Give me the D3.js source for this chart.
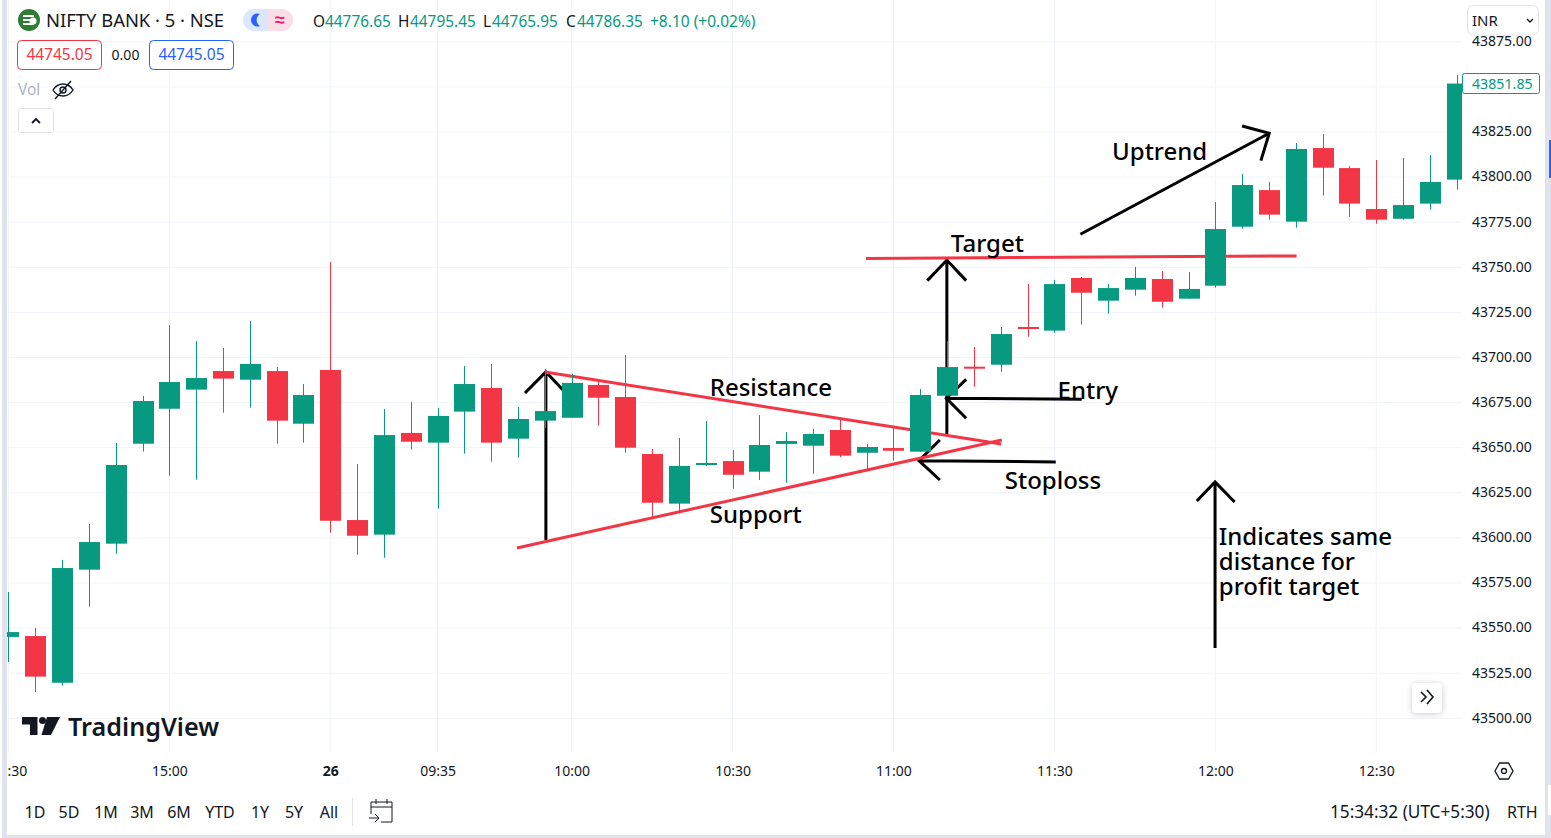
<!DOCTYPE html>
<html>
<head>
<meta charset="utf-8">
<script src="https://cdnjs.cloudflare.com/ajax/libs/d3/7.8.5/d3.min.js"></script>
<style>
  html, body { margin: 0; padding: 0; background: #fff; overflow: hidden; }
  text { font-family: "Noto Sans", sans-serif; }
</style>
</head>
<body>
<div id="chart"></div>
<script>
const opens = [43545.1,43545.6,43519.7,43582.4,43596.8,43652.2,43671.6,43682.2,43692.5,43687.7,43692.5,43663.3,43693.1,43609.9,43601.8,43658.2,43652.8,43670.0,43683.1,43655.0,43665.0,43666.6,43684.8,43678.1,43646.5,43619.0,43640.4,43642.6,43636.7,43652.1,43651.1,43659.8,43647.2,43649.8,43647.8,43678.8,43694.9,43696.0,43716.9,43714.9,43744.1,43731.5,43737.6,43743.5,43732.6,43739.8,43772.5,43792.8,43775.3,43816.1,43805.0,43782.3,43776.9,43785.3,43798.6]
const highs = [43570.0,43550.1,43587.8,43607.7,43652.6,43678.7,43718.0,43709.1,43705.3,43720.2,43694.7,43685.3,43752.9,43641.0,43671.5,43675.3,43672.0,43695.3,43696.4,43672.6,43693.6,43690.9,43686.6,43701.4,43649.3,43655.4,43664.8,43648.7,43668.1,43658.7,43660.4,43665.4,43652.1,43660.9,43682.5,43709.1,43705.8,43716.9,43740.7,43743.0,43744.6,43740.7,43750.2,43747.9,43747.4,43786.2,43801.7,43797.3,43818.9,43823.9,43806.2,43809.5,43810.6,43812.2,43856.6]
const lows = [43531.2,43514.6,43518.1,43561.9,43591.2,43647.8,43634.5,43632.3,43669.4,43672.2,43652.2,43652.8,43602.9,43590.7,43589.0,43648.9,43616.2,43646.7,43642.2,43644.5,43660.9,43666.6,43662.2,43647.2,43611.8,43613.6,43639.9,43627.3,43632.1,43630.6,43635.6,43644.8,43638.0,43642.8,43647.6,43678.8,43683.8,43692.1,43711.5,43713.7,43718.2,43724.3,43734.3,43727.6,43732.6,43738.7,43771.4,43776.4,43772.0,43789.7,43778.0,43774.2,43776.4,43781.9,43793.0]
const closes = [43547.8,43523.1,43583.3,43597.7,43640.4,43675.9,43686.4,43688.6,43688.3,43696.4,43665.0,43679.2,43609.5,43601.2,43657.0,43653.3,43667.6,43685.3,43652.8,43665.9,43670.3,43685.9,43677.7,43650.0,43619.5,43639.9,43641.5,43635.0,43651.5,43653.7,43657.6,43645.6,43650.4,43648.3,43679.2,43694.7,43693.8,43713.0,43716.0,43740.7,43735.9,43738.5,43744.1,43730.9,43738.0,43771.2,43795.6,43779.2,43815.6,43805.2,43785.3,43776.4,43784.5,43797.3,43851.85]

const priceTicks = [43500,43525,43550,43575,43600,43625,43650,43675,43700,43725,43750,43775,43800,43825,43875]
const gridPrices = [43500,43525,43550,43575,43600,43625,43650,43675,43700,43725,43750,43775,43800,43825,43850,43875]
const timeBars = [0,6,12,16,21,27,33,39,45,51]
const timeLabels = [":30","15:00","26","09:35","10:00","10:30","11:00","11:30","12:00","12:30"]
const rangeButtons = ["1D","5D","1M","3M","6M","YTD","1Y","5Y","All"]
const rangeButtonX = [35,69,106,142,179,220,260,294,329]

// drawn on the chart, [bar, price]
const trendLines = [
  [[31.97,43754.9],[48.03,43756.3]],
  [[20.0,43692],[37.02,43652.05]],
  [[18.96,43594.4],[37.04,43654.3]]
]
// tail, tip, barb, barb
const arrows = [
  [[20.04,43598.8],[20.04,43692],[19.26,43680.3],[20.82,43679.8]],
  [[34.99,43657],[34.99,43754],[34.26,43742.6],[35.71,43742.6]],
  [[40.02,43676.8],[34.97,43677.4],[35.71,43666.3],[35.71,43687.9]],
  [[39.05,43642.1],[33.95,43642.8],[34.73,43654.3],[34.73,43632.1]],
  [[44.99,43539],[44.99,43631],[44.31,43620.5],[45.72,43619.9]],
  [[39.97,43768.3],[47.01,43824.3],[46.0,43828.3],[46.7,43809.1]]
]
const noteTexts = ["Resistance","Support","Target","Entry","Stoploss","Uptrend","Indicates same","distance for","profit target"]
const noteBars = [26.15,26.15,35.14,39.12,37.15,41.15,45.13,45.13,45.13]
const notePrices = [43678.7,43608.3,43758.5,43677,43627.1,43809.5,43596.1,43582.2,43568.4]

const GREEN = "#089981", RED = "#f23645", INK = "#131722", GRID = "#f0f3fa", EDGE = "#e0e3eb"
const UI = "Roboto, sans-serif"

const width = 1551, height = 838
const svg = d3.select("#chart").append("svg")
    .attr("width", width).attr("height", height)
    .style("display", "block")

const x = d3.scaleLinear().domain([0, 54]).range([8.42, 1456.7])
const y = d3.scaleLinear().domain([43500, 43875]).range([718.3, 41.8])
const px = d => x(d[0]), py = d => y(d[1])
const line = d3.line().x(px).y(py)

svg.append("rect").attr("width", width).attr("height", height).attr("fill", "#fff")

// grid
svg.append("g").selectAll("line").data(gridPrices).join("line")
    .attr("x1", 8).attr("x2", 1462)
    .attr("y1", d => y(d)).attr("y2", d => y(d))
    .attr("stroke", GRID)
svg.append("g").selectAll("line").data(timeBars).join("line")
    .attr("x1", d => x(d)).attr("x2", d => x(d))
    .attr("y1", 0).attr("y2", 752)
    .attr("stroke", GRID)

// annotations sit under the candles
const notes = svg.append("g")
notes.selectAll(".arrow").data(arrows).join("path")
    .attr("class", "arrow")
    .attr("fill", "none").attr("stroke", "#000").attr("stroke-width", 3)
    .attr("d", d => line([d[0], d[1]]) + line([d[2], d[1], d[3]]))
notes.selectAll(".trend").data(trendLines).join("path")
    .attr("class", "trend")
    .attr("fill", "none").attr("stroke", RED).attr("stroke-width", 3)
    .attr("d", line)

// candles
const bars = d3.range(opens.length)
svg.append("clipPath").attr("id", "pane").append("rect")
    .attr("x", 7).attr("y", 0).attr("width", 1455).attr("height", 752)
const candles = svg.append("g").attr("clip-path", "url(#pane)")
const barColor = i => closes[i] >= opens[i] ? GREEN : RED
candles.selectAll(".wick").data(bars).join("line")
    .attr("class", "wick")
    .attr("x1", i => Math.round(x(i)) + 0.5).attr("x2", i => Math.round(x(i)) + 0.5)
    .attr("y1", i => y(highs[i])).attr("y2", i => y(lows[i]))
    .attr("stroke", barColor)
candles.selectAll(".body").data(bars).join("rect")
    .attr("class", "body")
    .attr("x", i => Math.round(x(i)) - 10).attr("width", 21)
    .attr("y", i => y(Math.max(opens[i], closes[i])))
    .attr("height", i => Math.max(2, Math.abs(y(opens[i]) - y(closes[i]))))
    .attr("fill", barColor)

svg.append("g").selectAll("text").data(noteTexts).join("text")
    .attr("x", (d, i) => x(noteBars[i]))
    .attr("y", (d, i) => y(notePrices[i]))
    .attr("font-size", 24)
    .attr("font-weight", 500)
    .attr("fill", "#000")
    .text(d => d)

// price axis
const yAxis = svg.append("g").attr("transform", "translate(1462,-0.6)")
    .call(d3.axisRight(y).tickValues(priceTicks).tickSize(0).tickPadding(10).tickFormat(d3.format(".2f")))
yAxis.select(".domain").remove()
yAxis.selectAll("text").attr("font-family", UI).attr("font-size", 14).attr("fill", INK)

// time axis
const xAxis = svg.append("g").attr("transform", "translate(0,771)")
    .call(d3.axisBottom(x).tickValues(timeBars).tickSize(0).tickPadding(0)
      .tickFormat((d, i) => timeLabels[i]))
xAxis.select(".domain").remove()
xAxis.selectAll("text").attr("font-family", UI).attr("font-size", 14).attr("fill", INK)
    .attr("dy", "0.35em").attr("y", 0)
    .attr("font-weight", (d, i) => timeLabels[i] == "26" ? 700 : 400)
// first label is cut off by the pane edge
xAxis.selectAll("text").filter((d, i) => i == 0).attr("text-anchor", "start").attr("x", -1.4)

// frame
svg.append("rect").attr("x", 2).attr("y", 0).attr("width", 5).attr("height", 838).attr("fill", EDGE)
svg.append("rect").attr("x", 1545).attr("y", 0).attr("width", 6).attr("height", 838).attr("fill", EDGE)
svg.append("rect").attr("x", 2).attr("y", 835).attr("width", 1549).attr("height", 3).attr("fill", EDGE)
svg.append("rect").attr("x", 1549).attr("y", 140).attr("width", 2).attr("height", 38).attr("fill", "#2962ff")
svg.append("rect").attr("x", 1548).attr("y", 785).attr("width", 3).attr("height", 30).attr("fill", "#fff")

function label(txt, tx, ty, size, fill, anchor) {
  return svg.append("text").attr("x", tx).attr("y", ty)
      .attr("dy", "0.35em")
      .attr("font-family", UI).attr("font-size", size)
      .attr("fill", fill).attr("text-anchor", anchor || "start")
      .text(txt)
}
function box(bx, by, bw, bh, stroke, r) {
  return svg.append("rect").attr("x", bx).attr("y", by).attr("width", bw).attr("height", bh)
      .attr("rx", r).attr("fill", "#fff").attr("stroke", stroke)
}

// header
svg.append("circle").attr("cx", 29).attr("cy", 20).attr("r", 11).attr("fill", "#2e7d32")
svg.append("path").attr("d", "M23 16h11M23 20h8M23 24h11").attr("stroke", "#fff").attr("stroke-width", 2)
svg.append("circle").attr("cx", 33).attr("cy", 21).attr("r", 3.5).attr("fill", "#fff")
label("NIFTY BANK · 5 · NSE", 46, 21, 18.4, INK)

svg.append("path").attr("d", "M254 9h14v22h-14a11 11 0 0 1 0-22z").attr("fill", "#dbe7ff")
svg.append("path").attr("d", "M268 9h14a11 11 0 0 1 0 22h-14z").attr("fill", "#fbdde7")
svg.append("path").attr("d", "M260 14a6.5 6.5 0 1 0 0 12a7 7 0 0 1 0-12z").attr("fill", "#2962ff")
label("≈", 280, 20, 18, "#e91e63", "middle").attr("font-weight", 700)

label("O", 313, 22, 15.4, INK)
label("44776.65", 325, 22, 15.4, GREEN)
label("H", 398, 22, 15.4, INK)
label("44795.45", 410, 22, 15.4, GREEN)
label("L", 483, 22, 15.4, INK)
label("44765.95", 492, 22, 15.4, GREEN)
label("C", 566, 22, 15.4, INK)
label("44786.35", 577, 22, 15.4, GREEN)
label("+8.10 (+0.02%)", 650, 22, 15.5, GREEN)

box(17.5, 40.5, 84, 29, RED, 4)
label("44745.05", 59.5, 55, 15.5, RED, "middle")
label("0.00", 125.5, 55, 14, INK, "middle")
box(149.5, 40.5, 84, 29, "#2962ff", 4)
label("44745.05", 191.5, 55, 15.5, "#2962ff", "middle")

label("Vol", 18, 90, 15.5, "#b2b5be")
svg.append("path").attr("d", "M53 90c5-8 15-8 20 0c-5 8-15 8-20 0zM55 99l16-18")
    .attr("fill", "none").attr("stroke", INK).attr("stroke-width", 1.4)
svg.append("circle").attr("cx", 63).attr("cy", 90).attr("r", 3)
    .attr("fill", "none").attr("stroke", INK).attr("stroke-width", 1.4)

box(18.5, 108.5, 35, 24, EDGE, 3)
svg.append("path").attr("d", "M32 123l4-4l4 4").attr("fill", "none").attr("stroke", INK).attr("stroke-width", 1.8)

// currency box and last price
box(1467.5, 5.5, 71, 29.5, EDGE, 6)
label("INR", 1472, 21, 15, INK)
svg.append("path").attr("d", "M1527 19l3 3l3-3").attr("fill", "none").attr("stroke", INK).attr("stroke-width", 1.4)
box(1462.5, 73.5, 77, 20, GREEN, 2)
label(closes[closes.length - 1].toFixed(2), 1472, 84, 14.2, GREEN)

// watermark
svg.append("path").attr("d", "M22 717h15.500v18h-7.500v-10.500h-8zM47 717h13l-9 18h-9.500z").attr("fill", INK)
svg.append("circle").attr("cx", 42.500).attr("cy", 720.500).attr("r", 3.500).attr("fill", INK)
svg.append("text").attr("x", 68).attr("y", 736)
    .attr("font-family", "Inter, sans-serif").attr("font-weight", 600).attr("font-size", 25.2)
    .attr("fill", INK).text("TradingView")

// scroll button
svg.append("rect").attr("x", 1412).attr("y", 683).attr("width", 30).attr("height", 30).attr("rx", 4)
    .attr("fill", "#fff").style("filter", "drop-shadow(0 1px 3px rgba(0,0,0,.2))")
svg.append("path").attr("d", "M1421 692l5 5l-5 5M1427 690l6 7l-6 7")
    .attr("fill", "none").attr("stroke", INK).attr("stroke-width", 1.6)

// settings hexagon
svg.append("path").attr("d", "M1495 771l4.500-8h9l4.500 8l-4.500 8h-9z").attr("fill", "none").attr("stroke", INK).attr("stroke-width", 1.3)
svg.append("circle").attr("cx", 1504).attr("cy", 771).attr("r", 2.500).attr("fill", "none").attr("stroke", INK).attr("stroke-width", 1.3)

// bottom bar
svg.append("g").selectAll("text").data(rangeButtons).join("text")
    .attr("x", (d, i) => rangeButtonX[i]).attr("y", 812).attr("dy", "0.35em")
    .attr("text-anchor", "middle")
    .attr("font-family", UI).attr("font-size", 16).attr("fill", INK)
    .text(d => d)
svg.append("line").attr("x1", 352.5).attr("x2", 352.5).attr("y1", 798).attr("y2", 826).attr("stroke", EDGE)
svg.append("path").attr("d", "M371 814v-12h21v20h-11M371 807h21M376 799v5M387 799v5M369 818h9M375 814l4 4l-4 4")
    .attr("fill", "none").attr("stroke", INK).attr("stroke-width", 1)
label("15:34:32 (UTC+5:30)", 1330, 812, 17.2, INK)
label("RTH", 1507, 812, 16, INK)
</script>
</body>
</html>
